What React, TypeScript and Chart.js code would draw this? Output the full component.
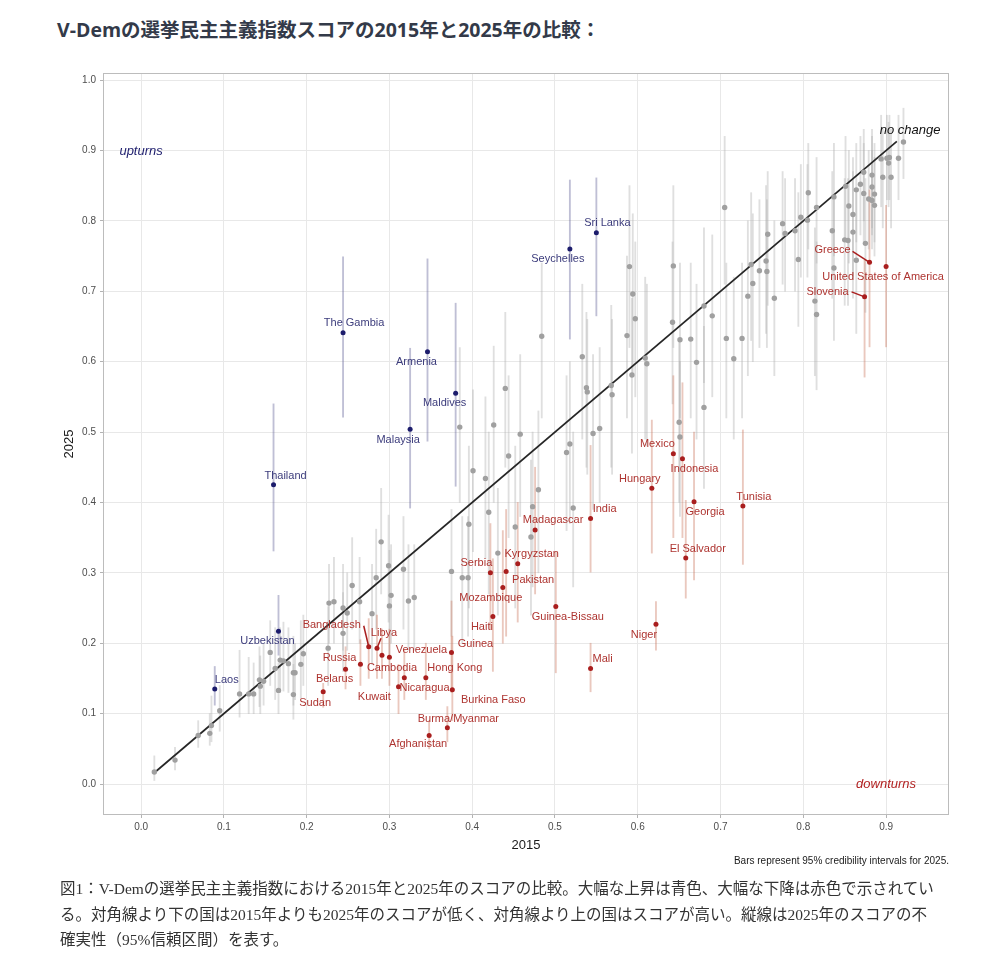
import React, { useEffect, useRef } from "react";
import { Chart, registerables } from "chart.js";

Chart.register(...registerables);

// ---------------- DATA ----------------
const titleText = "V-Demの選挙民主主義指数スコアの2015年と2025年の比較：";
const captionLines = [
  "図1：V-Demの選挙民主主義指数における2015年と2025年のスコアの比較。大幅な上昇は青色、大幅な下降は赤色で示されてい",
  "る。対角線より下の国は2015年よりも2025年のスコアが低く、対角線より上の国はスコアが高い。縦線は2025年のスコアの不",
  "確実性（95%信頼区間）を表す。",
];
const xTitle = "2015";
const yTitle = "2025";
const noteText = "Bars represent 95% credibility intervals for 2025.";
const xTickValues = [0, 0.1, 0.2, 0.3, 0.4, 0.5, 0.6, 0.7, 0.8, 0.9];
const yTickValues = [0, 0.1, 0.2, 0.3, 0.4, 0.5, 0.6, 0.7, 0.8, 0.9, 1.0];

// diagonal "no change" segment (2015 = 2025)
const diagonal = [0.016, 0.913];

// unlabelled countries: [score2015, score2025, ci low 2025, ci high 2025]
const grayCountries: [number, number, number, number][] = [
  [0.016, 0.017, 0.005, 0.040], [0.041, 0.034, 0.020, 0.052], [0.069, 0.069, 0.052, 0.090],
  [0.083, 0.072, 0.055, 0.100], [0.085, 0.083, 0.060, 0.125], [0.095, 0.104, 0.075, 0.140],
  [0.119, 0.128, 0.095, 0.190], [0.130, 0.128, 0.100, 0.180], [0.136, 0.128, 0.100, 0.172],
  [0.143, 0.148, 0.110, 0.195], [0.144, 0.139, 0.100, 0.182], [0.148, 0.146, 0.112, 0.200],
  [0.156, 0.187, 0.140, 0.232], [0.162, 0.164, 0.120, 0.222], [0.166, 0.133, 0.100, 0.172],
  [0.168, 0.176, 0.130, 0.222], [0.172, 0.175, 0.132, 0.230], [0.178, 0.171, 0.130, 0.222],
  [0.184, 0.158, 0.112, 0.210], [0.186, 0.158, 0.120, 0.200], [0.184, 0.127, 0.092, 0.170],
  [0.193, 0.170, 0.122, 0.232], [0.196, 0.185, 0.140, 0.240], [0.226, 0.193, 0.140, 0.252],
  [0.227, 0.257, 0.200, 0.312], [0.233, 0.259, 0.200, 0.322], [0.244, 0.214, 0.160, 0.272],
  [0.244, 0.250, 0.190, 0.312], [0.249, 0.243, 0.190, 0.300], [0.255, 0.282, 0.220, 0.350],
  [0.264, 0.259, 0.200, 0.322], [0.279, 0.242, 0.170, 0.312], [0.284, 0.293, 0.220, 0.362],
  [0.290, 0.344, 0.270, 0.420], [0.299, 0.310, 0.230, 0.382], [0.302, 0.268, 0.200, 0.340],
  [0.300, 0.253, 0.180, 0.332], [0.317, 0.305, 0.220, 0.380], [0.323, 0.260, 0.190, 0.340],
  [0.330, 0.265, 0.190, 0.340], [0.375, 0.302, 0.210, 0.390], [0.388, 0.293, 0.200, 0.380],
  [0.395, 0.293, 0.210, 0.380], [0.431, 0.328, 0.240, 0.420],
  [0.385, 0.507, 0.400, 0.620], [0.426, 0.510, 0.400, 0.622], [0.440, 0.562, 0.450, 0.670],
  [0.458, 0.497, 0.380, 0.610], [0.444, 0.466, 0.350, 0.580], [0.401, 0.445, 0.330, 0.560],
  [0.416, 0.434, 0.320, 0.550], [0.480, 0.418, 0.300, 0.530], [0.518, 0.483, 0.370, 0.600],
  [0.514, 0.471, 0.360, 0.580], [0.546, 0.498, 0.390, 0.610], [0.554, 0.505, 0.400, 0.620],
  [0.473, 0.394, 0.280, 0.500], [0.522, 0.392, 0.280, 0.500], [0.420, 0.386, 0.270, 0.500],
  [0.396, 0.369, 0.250, 0.480], [0.452, 0.365, 0.250, 0.480], [0.471, 0.351, 0.240, 0.460],
  [0.484, 0.636, 0.520, 0.740], [0.533, 0.607, 0.490, 0.710], [0.538, 0.563, 0.450, 0.670],
  [0.539, 0.557, 0.440, 0.660], [0.650, 0.514, 0.400, 0.630], [0.651, 0.493, 0.380, 0.600],
  [0.705, 0.819, 0.710, 0.920], [0.757, 0.781, 0.680, 0.870], [0.737, 0.738, 0.630, 0.840],
  [0.747, 0.729, 0.620, 0.830], [0.755, 0.743, 0.640, 0.850], [0.756, 0.728, 0.620, 0.830],
  [0.739, 0.711, 0.600, 0.810], [0.733, 0.693, 0.580, 0.800], [0.765, 0.690, 0.580, 0.800],
  [0.590, 0.735, 0.620, 0.850], [0.643, 0.736, 0.620, 0.850], [0.594, 0.696, 0.580, 0.810],
  [0.597, 0.661, 0.550, 0.770], [0.587, 0.637, 0.520, 0.750], [0.642, 0.656, 0.540, 0.770],
  [0.680, 0.679, 0.570, 0.790], [0.690, 0.665, 0.550, 0.780], [0.651, 0.631, 0.520, 0.740],
  [0.664, 0.632, 0.520, 0.740], [0.707, 0.633, 0.520, 0.740], [0.726, 0.633, 0.520, 0.740],
  [0.716, 0.604, 0.490, 0.720], [0.671, 0.599, 0.490, 0.710], [0.609, 0.605, 0.490, 0.720],
  [0.611, 0.597, 0.480, 0.710], [0.593, 0.581, 0.470, 0.690], [0.568, 0.566, 0.450, 0.680],
  [0.569, 0.553, 0.440, 0.660], [0.680, 0.535, 0.420, 0.650],
  [0.921, 0.912, 0.860, 0.960], [0.915, 0.889, 0.830, 0.950], [0.904, 0.890, 0.830, 0.950],
  [0.901, 0.889, 0.830, 0.950], [0.894, 0.888, 0.820, 0.950], [0.903, 0.882, 0.820, 0.940],
  [0.896, 0.862, 0.790, 0.930], [0.906, 0.862, 0.790, 0.930], [0.873, 0.869, 0.800, 0.930],
  [0.883, 0.865, 0.790, 0.930], [0.869, 0.852, 0.780, 0.920], [0.883, 0.848, 0.780, 0.920],
  [0.864, 0.844, 0.770, 0.910], [0.873, 0.839, 0.770, 0.910], [0.886, 0.838, 0.770, 0.910],
  [0.879, 0.831, 0.760, 0.900], [0.883, 0.829, 0.760, 0.900], [0.886, 0.822, 0.750, 0.890],
  [0.851, 0.849, 0.770, 0.920], [0.837, 0.834, 0.750, 0.910], [0.855, 0.821, 0.740, 0.900],
  [0.806, 0.840, 0.760, 0.910], [0.816, 0.819, 0.740, 0.890], [0.860, 0.809, 0.720, 0.890],
  [0.797, 0.805, 0.720, 0.880], [0.805, 0.801, 0.720, 0.880], [0.775, 0.796, 0.710, 0.870],
  [0.790, 0.786, 0.700, 0.860], [0.778, 0.782, 0.700, 0.860], [0.860, 0.784, 0.690, 0.870],
  [0.835, 0.786, 0.690, 0.870], [0.850, 0.773, 0.680, 0.860], [0.854, 0.772, 0.680, 0.860],
  [0.875, 0.768, 0.670, 0.860], [0.864, 0.744, 0.640, 0.840], [0.837, 0.733, 0.630, 0.830],
  [0.794, 0.745, 0.650, 0.840], [0.814, 0.686, 0.580, 0.790], [0.816, 0.667, 0.560, 0.770],
];

// substantial upturns (blue)
const upNames = ["Laos", "Uzbekistan", "Thailand", "The Gambia", "Armenia", "Malaysia", "Maldives", "Sri Lanka", "Seychelles"];
const up2015 = [0.089, 0.166, 0.160, 0.244, 0.346, 0.325, 0.380, 0.550, 0.518];
const up2025 = [0.135, 0.217, 0.425, 0.641, 0.614, 0.504, 0.555, 0.783, 0.760];
const upLow = [0.112, 0.183, 0.331, 0.521, 0.487, 0.392, 0.423, 0.665, 0.632];
const upHigh = [0.167, 0.268, 0.540, 0.749, 0.746, 0.619, 0.683, 0.861, 0.858];

// substantial downturns (red)
const downNames = [
  "Sudan", "Belarus", "Russia", "Bangladesh", "Libya", "Cambodia", "Venezuela", "Kuwait", "Nicaragua",
  "Hong Kong", "Guinea", "Burkina Faso", "Burma/Myanmar", "Afghanistan", "Serbia", "Kyrgyzstan", "Pakistan",
  "Mozambique", "Haiti", "Guinea-Bissau", "Madagascar", "India", "Mali", "Niger", "Hungary", "Mexico",
  "Indonesia", "Georgia", "El Salvador", "Tunisia", "Greece", "United States of America", "Slovenia",
];
const down2015 = [
  0.220, 0.247, 0.265, 0.275, 0.285, 0.291, 0.300, 0.318, 0.311,
  0.344, 0.375, 0.376, 0.370, 0.348, 0.422, 0.455, 0.441,
  0.437, 0.425, 0.501, 0.476, 0.543, 0.543, 0.622, 0.617, 0.643,
  0.654, 0.668, 0.658, 0.727, 0.880, 0.900, 0.874,
];
const down2025 = [
  0.131, 0.163, 0.170, 0.195, 0.193, 0.183, 0.180, 0.151, 0.138,
  0.151, 0.187, 0.134, 0.080, 0.069, 0.300, 0.313, 0.302,
  0.279, 0.238, 0.252, 0.361, 0.377, 0.164, 0.227, 0.420, 0.469,
  0.462, 0.401, 0.321, 0.395, 0.741, 0.735, 0.692,
];
const downLow = [
  0.109, 0.135, 0.140, 0.150, 0.150, 0.150, 0.140, 0.120, 0.100,
  0.120, 0.130, 0.090, 0.060, 0.050, 0.220, 0.230, 0.210,
  0.200, 0.160, 0.158, 0.270, 0.301, 0.131, 0.190, 0.328, 0.350,
  0.350, 0.290, 0.264, 0.312, 0.621, 0.621, 0.578,
];
const downHigh = [
  0.143, 0.195, 0.205, 0.235, 0.240, 0.220, 0.220, 0.190, 0.170,
  0.200, 0.260, 0.210, 0.110, 0.090, 0.370, 0.400, 0.390,
  0.360, 0.320, 0.330, 0.450, 0.481, 0.200, 0.259, 0.517, 0.580,
  0.570, 0.500, 0.403, 0.503, 0.844, 0.822, 0.744,
];

// text annotations placed in data space: [text, x, y]
const regionNotes: [string, number, number][] = [
  ["upturns", 0.0, 0.899],
  ["downturns", 0.9, 0.0],
  ["no change", 0.929, 0.929],
];

// ---------------- STYLE / LABEL PLACEMENT ----------------
const SANS = '"Liberation Sans", Arial, "Noto Sans CJK JP", sans-serif';
const GRAY_PT = "#a0a0a0";
const UP_PT = "#1c1c6c";
const DOWN_PT = "#a91e1e";
const UP_TXT = "#3c3c7c";
const DOWN_TXT = "#ae3430";
const GRAY_BAR = "rgba(175,175,175,0.4)";
const UP_BAR = "rgba(95,95,150,0.4)";
const DOWN_BAR = "rgba(200,110,85,0.38)";
const noteColors = ["#1c1c6c", "#b22222", "#111111"];

// label offsets in pixels relative to each point (label centre)
const upLabelOffsets: Record<string, [number, number]> = {
  "Laos": [12, -9], "Uzbekistan": [-11, 10], "Thailand": [12, -9], "The Gambia": [11, -10],
  "Armenia": [-11, 10], "Malaysia": [-12, 11], "Maldives": [-11, 10], "Sri Lanka": [11, -10],
  "Seychelles": [-12, 10],
};
const downLabelOffsets: Record<string, [number, number]> = {
  "Sudan": [-8, 11], "Belarus": [-11, 10], "Russia": [-21, -6], "Bangladesh": [-37, -22],
  "Libya": [7, -15], "Cambodia": [10, 13], "Venezuela": [32, -7], "Kuwait": [-30, 19],
  "Nicaragua": [26, 1], "Hong Kong": [29, -10], "Guinea": [24, -8], "Burkina Faso": [41, 10],
  "Burma/Myanmar": [11, -9], "Afghanistan": [-11, 9], "Serbia": [-14, -10], "Kyrgyzstan": [14, -10],
  "Pakistan": [27, 9], "Mozambique": [-12, 10], "Haiti": [-11, 10], "Guinea-Bissau": [12, 10],
  "Madagascar": [18, -10], "India": [14, -10], "Mali": [12, -10], "Niger": [-12, 11],
  "Hungary": [-12, -9], "Mexico": [-16, -10], "Indonesia": [12, 10], "Georgia": [11, 10],
  "El Salvador": [12, -9], "Tunisia": [11, -9], "Greece": [-37, -12],
  "United States of America": [-3, 10], "Slovenia": [-37, -5],
};
// leader-line starting points relative to the point
const leaderStarts: Record<string, [number, number]> = {
  "Bangladesh": [-5, -21], "Libya": [4, -10], "Greece": [-17, -11], "Slovenia": [-13, -5],
};

const panelPlugin = {
  id: "panelBorder",
  beforeDatasetsDraw(chart: any) {
    const { ctx, chartArea } = chart;
    ctx.save();
    ctx.strokeStyle = "#bcbcbc";
    ctx.lineWidth = 1;
    ctx.strokeRect(chartArea.left + 0.5, chartArea.top + 0.5, chartArea.right - chartArea.left - 1, chartArea.bottom - chartArea.top - 1);
    ctx.restore();
  },
};

const labelPlugin = {
  id: "countryLabels",
  afterDatasetsDraw(chart: any) {
    const { ctx, chartArea } = chart;
    const xs = chart.scales.x;
    const ys = chart.scales.y;
    ctx.save();
    // leader lines
    ctx.strokeStyle = DOWN_PT;
    ctx.lineWidth = 1.5;
    downNames.forEach((n, i) => {
      const lead = leaderStarts[n];
      if (!lead) return;
      const px = xs.getPixelForValue(down2015[i]);
      const py = ys.getPixelForValue(down2025[i]);
      ctx.beginPath();
      ctx.moveTo(px + lead[0], py + lead[1]);
      ctx.lineTo(px, py);
      ctx.stroke();
    });
    ctx.font = `11px ${SANS}`;
    ctx.textAlign = "center";
    ctx.textBaseline = "middle";
    ctx.fillStyle = UP_TXT;
    upNames.forEach((n, i) => {
      const off = upLabelOffsets[n] || [0, -10];
      ctx.fillText(n, xs.getPixelForValue(up2015[i]) + off[0], ys.getPixelForValue(up2025[i]) + off[1]);
    });
    ctx.fillStyle = DOWN_TXT;
    downNames.forEach((n, i) => {
      const off = downLabelOffsets[n] || [0, 10];
      ctx.fillText(n, xs.getPixelForValue(down2015[i]) + off[0], ys.getPixelForValue(down2025[i]) + off[1]);
    });
    // region annotations
    ctx.font = `italic 13px ${SANS}`;
    regionNotes.forEach(([t, x, y], i) => {
      ctx.fillStyle = noteColors[i];
      ctx.fillText(t, xs.getPixelForValue(x), ys.getPixelForValue(y));
    });
    // bottom-right note
    ctx.font = `10px ${SANS}`;
    ctx.textAlign = "right";
    ctx.fillStyle = "#1a1a1a";
    ctx.fillText(noteText, chartArea.right, chartArea.bottom + 46);
    ctx.restore();
  },
};

export default function App() {
  const canvasRef = useRef<HTMLCanvasElement | null>(null);

  useEffect(() => {
    const canvas = canvasRef.current;
    if (!canvas) return;

    const intervalData = [
      ...grayCountries.map((r) => ({ x: r[0], y: [r[2], r[3]] })),
      ...up2015.map((x, i) => ({ x, y: [upLow[i], upHigh[i]] })),
      ...down2015.map((x, i) => ({ x, y: [downLow[i], downHigh[i]] })),
    ];
    const intervalColors = [
      ...grayCountries.map(() => GRAY_BAR),
      ...up2015.map(() => UP_BAR),
      ...down2015.map(() => DOWN_BAR),
    ];

    const tickFont = { size: 10, family: SANS };
    const chart = new Chart(canvas, {
      type: "scatter",
      data: {
        datasets: [
          {
            type: "bar",
            label: "intervals",
            data: intervalData as any,
            backgroundColor: intervalColors,
            borderWidth: 0,
            barThickness: 1.2,
            order: 3,
          } as any,
          {
            type: "line",
            label: "no change",
            data: diagonal.map((v) => ({ x: v, y: v })),
            borderColor: "#262626",
            borderWidth: 1.7,
            pointRadius: 0,
            order: 2,
          },
          {
            type: "scatter",
            label: "other",
            data: grayCountries.map((r) => ({ x: r[0], y: r[1] })),
            backgroundColor: GRAY_PT,
            borderWidth: 0,
            pointRadius: 2.7,
            order: 1,
          },
          {
            type: "scatter",
            label: "upturns",
            data: up2015.map((x, i) => ({ x, y: up2025[i] })),
            backgroundColor: UP_PT,
            borderWidth: 0,
            pointRadius: 2.5,
            order: 0,
          },
          {
            type: "scatter",
            label: "downturns",
            data: down2015.map((x, i) => ({ x, y: down2025[i] })),
            backgroundColor: DOWN_PT,
            borderWidth: 0,
            pointRadius: 2.5,
            order: 0,
          },
        ],
      },
      options: {
        animation: false,
        responsive: false,
        maintainAspectRatio: false,
        layout: { padding: { left: 53, top: 73, right: 51, bottom: 25 } },
        plugins: { legend: { display: false }, tooltip: { enabled: false } },
        scales: {
          x: {
            type: "linear",
            min: -0.046,
            max: 0.976,
            offset: false,
            afterFit: (s: any) => { s.height = 40; },
            afterBuildTicks: (s: any) => { s.ticks = xTickValues.map((v) => ({ value: v })); },
            ticks: {
              callback: (v: any) => Number(v).toFixed(1),
              padding: 3,
              color: "#4d4d4d",
              font: tickFont,
              maxRotation: 0,
              autoSkip: false,
            },
            grid: { offset: false, color: "#e8e8e8", lineWidth: 1, tickLength: 3, tickColor: "#b3b3b3", drawTicks: true },
            border: { display: false },
            title: { display: true, text: xTitle, color: "#1a1a1a", font: { size: 13, family: SANS }, padding: { top: 0, bottom: 2 } },
          },
          y: {
            type: "linear",
            min: -0.044,
            max: 1.01,
            afterFit: (s: any) => { s.width = 50; },
            afterBuildTicks: (s: any) => { s.ticks = yTickValues.map((v) => ({ value: v })); },
            ticks: {
              callback: (v: any) => Number(v).toFixed(1),
              padding: 4,
              color: "#4d4d4d",
              font: tickFont,
              autoSkip: false,
            },
            grid: { offset: false, color: "#e8e8e8", lineWidth: 1, tickLength: 3, tickColor: "#b3b3b3", drawTicks: true },
            border: { display: false },
            title: { display: true, text: yTitle, color: "#1a1a1a", font: { size: 13, family: SANS }, padding: { top: 9, bottom: 0 } },
          },
        },
      } as any,
      plugins: [panelPlugin, labelPlugin],
    });
    return () => chart.destroy();
  }, []);

  return (
    <div style={{ position: "absolute", left: 0, top: 0, width: 1000, height: 975, background: "#fff" }}>
      <div
        style={{
          position: "absolute",
          left: 57,
          top: 16,
          fontFamily: '"Open Sans", "Noto Sans CJK JP", sans-serif',
          fontWeight: 700,
          fontSize: 19.5,
          lineHeight: "28px",
          color: "#333a49",
          whiteSpace: "nowrap",
        }}
      >
        {titleText}
      </div>
      <canvas ref={canvasRef} width={1000} height={880} style={{ position: "absolute", left: 0, top: 0, width: 1000, height: 880 }} />
      <div
        style={{
          position: "absolute",
          left: 60,
          top: 876,
          fontFamily: '"Liberation Serif", "Noto Sans CJK JP", serif',
          fontSize: 15.5,
          lineHeight: "25.5px",
          color: "#333",
          whiteSpace: "nowrap",
        }}
      >
        {captionLines.map((l, i) => (
          <div key={i}>{l}</div>
        ))}
      </div>
    </div>
  );
}
